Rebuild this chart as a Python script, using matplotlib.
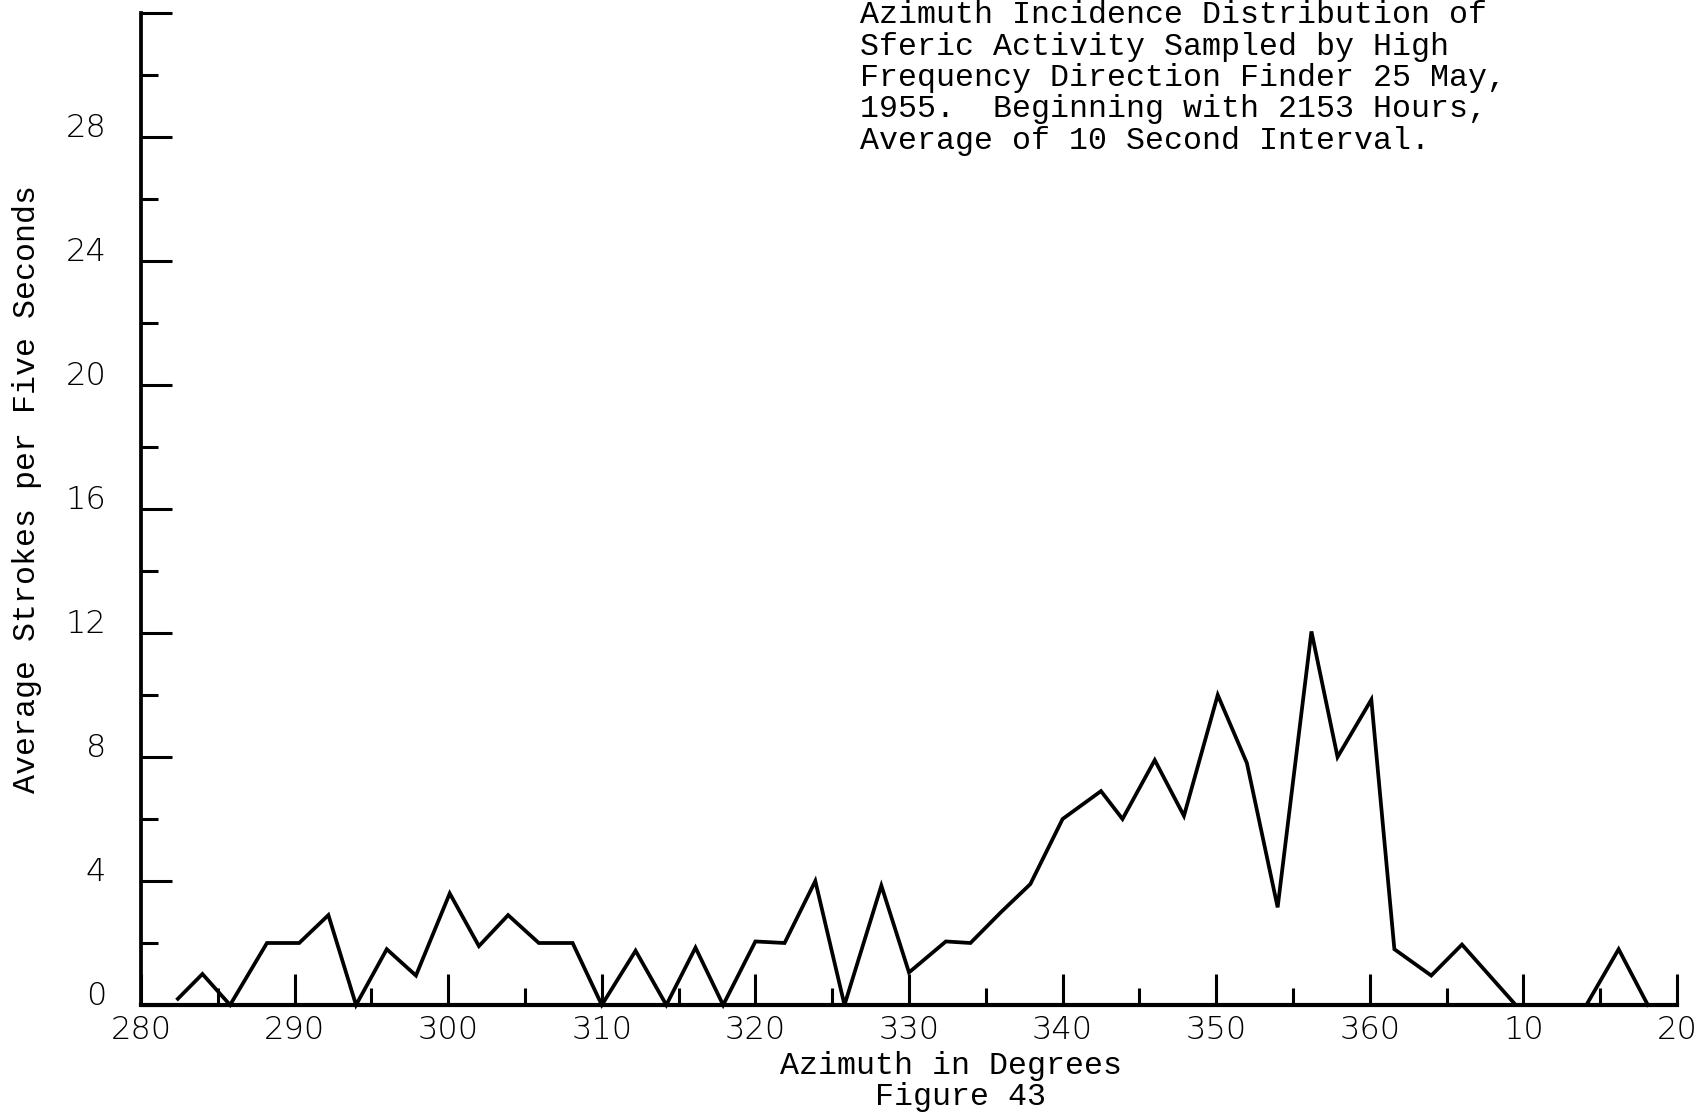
import matplotlib
matplotlib.use("Agg")
import matplotlib.pyplot as plt
from matplotlib.ticker import MultipleLocator

# Azimuth (degrees, continued past 360 so that 370 = 10, 380 = 20) and
# average sferic strokes per five seconds.
azimuth = [282.4, 284.0, 285.8, 288.2, 290.3, 292.2, 294.0, 296.0, 297.9,
           300.1, 302.0, 303.9, 305.9, 308.1, 310.0, 312.2, 314.2, 316.1,
           317.9, 320.0, 321.9, 323.9, 325.8, 328.2, 330.0, 332.4, 334.0,
           336.0, 337.9, 340.0, 342.5, 343.9, 346.0, 347.9, 350.1, 352.0,
           354.0, 356.2, 357.9, 360.1, 361.6, 364.0, 366.0, 369.5, 374.1,
           376.2, 378.1]
strokes = [0.2, 1.0, 0.0, 2.0, 2.0, 2.9, 0.0, 1.8, 0.95,
           3.6, 1.9, 2.9, 2.0, 2.0, 0.0, 1.75, 0.0, 1.85,
           0.0, 2.05, 2.0, 4.0, 0.0, 3.85, 1.05, 2.05, 2.0,
           3.0, 3.9, 6.0, 6.9, 6.0, 7.9, 6.1, 10.0, 7.8,
           3.15, 12.05, 8.0, 9.85, 1.8, 0.95, 1.95, 0.0, 0.0,
           1.8, 0.0]

x_ticks = [280, 290, 300, 310, 320, 330, 340, 350, 360, 370, 380]
x_tick_labels = ["280", "290", "300", "310", "320", "330", "340", "350",
                 "360", "10", "20"]
y_ticks = [0, 4, 8, 12, 16, 20, 24, 28, 32]
y_tick_labels = ["0", "4", "8", "12", "16", "20", "24", "28", ""]

title_lines = [
    "Azimuth Incidence Distribution of",
    "Sferic Activity Sampled by High",
    "Frequency Direction Finder 25 May,",
    "1955.  Beginning with 2153 Hours,",
    "Average of 10 Second Interval.",
]
x_label = "Azimuth in Degrees"
figure_label = "Figure 43"
y_label = "Average Strokes per Five Seconds"

TYPE = ["Liberation Mono", "DejaVu Sans Mono"]
TYPE_SIZE = 22.8
DIGITS = ["DejaVu Sans"]
DIGIT_SIZE = 23

W, H, DPI = 1705, 1115, 100
fig = plt.figure(figsize=(W / DPI, H / DPI), dpi=DPI)
fig.patch.set_facecolor("white")

# axes box in pixel terms: left 141, right 1677, top 13, bottom 1005
ax = fig.add_axes([141 / W, 1 - 1005 / H, (1677 - 141) / W, (1005 - 13) / H])
ax.plot(azimuth, strokes, color="black", lw=2.7, solid_joinstyle="miter",
        clip_on=False, zorder=3)
ax.set_xlim(280, 380)
ax.set_ylim(0, 32)

for side in ("top", "right"):
    ax.spines[side].set_visible(False)
ax.spines["left"].set_linewidth(2.7)
ax.spines["bottom"].set_linewidth(3.0)

ax.set_xticks(x_ticks)
ax.set_xticklabels(x_tick_labels)
ax.xaxis.set_minor_locator(MultipleLocator(5))
ax.set_yticks(y_ticks)
ax.set_yticklabels(y_tick_labels)
ax.yaxis.set_minor_locator(MultipleLocator(2))

ax.tick_params(which="both", direction="in", width=2.2, color="black")
ax.tick_params(which="major", length=22)
ax.tick_params(which="minor", length=12)
ax.tick_params(axis="y", pad=25)
ax.tick_params(axis="x", pad=7)

for lab in ax.get_xticklabels() + ax.get_yticklabels():
    lab.set_family(DIGITS)
    lab.set_size(DIGIT_SIZE)
    lab.set_weight("light")
for lab in ax.get_yticklabels():
    lab.set_verticalalignment("baseline")

# caption block, one typed line per row
for i, line in enumerate(title_lines):
    fig.text(860 / W, 1 - (23 + 31.5 * i) / H, line, family=TYPE,
             size=TYPE_SIZE, ha="left", va="baseline")

fig.text(951 / W, 1 - 1074 / H, x_label, family=TYPE, size=TYPE_SIZE,
         ha="center", va="baseline")
fig.text(960 / W, 1 - 1105 / H, figure_label, family=TYPE, size=TYPE_SIZE,
         ha="center", va="baseline")
fig.text(27 / W, 1 - 489 / H, y_label, family=TYPE, size=TYPE_SIZE,
         rotation=90, ha="center", va="center")

fig.savefig("out.png", dpi=DPI, facecolor="white")
